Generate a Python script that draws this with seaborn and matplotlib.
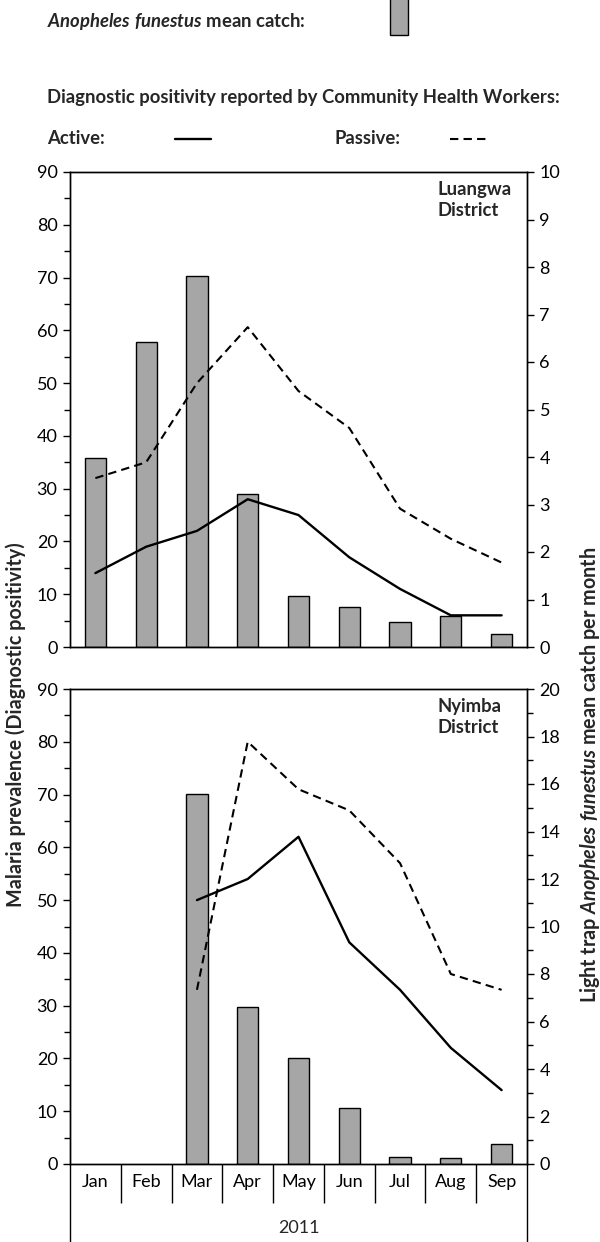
import numpy as np
import pandas as pd
import seaborn as sns
import matplotlib.pyplot as plt
from matplotlib.ticker import MultipleLocator, NullLocator
from matplotlib.lines import Line2D
from matplotlib.patches import Rectangle

sns.set_style('ticks')
plt.rcParams['font.family'] = ['Lato', 'DejaVu Sans']
plt.rcParams['mathtext.fontset'] = 'custom'
plt.rcParams['mathtext.it'] = 'Lato:italic:bold'
plt.rcParams['mathtext.rm'] = 'Lato:bold'
plt.rcParams['mathtext.bf'] = 'Lato:bold'
plt.rcParams['axes.edgecolor'] = 'black'
plt.rcParams['xtick.color'] = 'black'
plt.rcParams['ytick.color'] = 'black'

months = ['Jan', 'Feb', 'Mar', 'Apr', 'May', 'Jun', 'Jul', 'Aug', 'Sep']

# Luangwa District
luangwa_catch = [3.98, 6.42, 7.81, 3.23, 1.08, 0.85, 0.52, 0.66, 0.28]
luangwa_active = [14, 19, 22, 28, 25, 17, 11, 6, 6]
luangwa_passive = [32, 35, 50, 60.6, 48.5, 41.5, 26.2, 20.5, 16]

# Nyimba District
nyimba_catch = [np.nan, np.nan, 15.6, 6.6, 4.45, 2.35, 0.3, 0.25, 0.85]
nyimba_active = [np.nan, np.nan, 50, 54, 62, 42, 33, 22, 14]
nyimba_passive = [np.nan, np.nan, 33, 80, 71, 67, 57, 36, 33]

BAR = '#a6a6a6'
FS = 13
LFS = 13.3
W, H = 600, 1242

fig = plt.figure(figsize=(6, 12.42), dpi=100)


def panel(top_px, catch, active, passive, cmax, cmajor, cminor, name, bottom_axis):
    rect = [70 / W, 1 - (top_px + 475) / H, 457 / W, 475 / H]
    ax = fig.add_axes(rect)
    ax2 = ax.twinx()
    df = pd.DataFrame({'month': months, 'catch': catch})
    sns.barplot(data=df, x='month', y='catch', order=months, ax=ax2,
                color=BAR, saturation=1, edgecolor='black', linewidth=1,
                width=0.42, errorbar=None)
    pos = np.arange(len(months))
    sns.lineplot(x=pos, y=active, ax=ax, color='black', lw=1.7)
    sns.lineplot(x=pos, y=passive, ax=ax, color='black', lw=1.5,
                 linestyle=(0, (4, 2.5)))
    ax.set_zorder(ax2.get_zorder() + 1)
    ax.patch.set_visible(False)

    ax.set_xlim(-0.5, len(months) - 0.5)
    ax.set_ylim(0, 90)
    ax.yaxis.set_major_locator(MultipleLocator(10))
    ax.yaxis.set_minor_locator(MultipleLocator(5))
    ax2.set_ylim(0, cmax)
    ax2.yaxis.set_major_locator(MultipleLocator(cmajor))
    if cminor:
        ax2.yaxis.set_minor_locator(MultipleLocator(cminor))
    else:
        ax2.yaxis.set_minor_locator(NullLocator())
    for a in (ax, ax2):
        a.set_xlabel('')
        a.set_ylabel('')
        a.tick_params(axis='y', which='major', length=5, width=1, pad=4,
                      labelsize=FS)
        a.tick_params(axis='y', which='minor', length=4, width=1)
        for s in a.spines.values():
            s.set_linewidth(1)
            s.set_visible(True)

    if bottom_axis:
        ax.set_xticks(pos[:-1] + 0.5)
        ax.set_xticklabels([])
        ax.set_xticks(pos, minor=True)
        ax.set_xticklabels(months, minor=True)
        ax.tick_params(axis='x', which='major', length=28, width=1)
        ax.tick_params(axis='x', which='minor', length=0, pad=7,
                       labelsize=FS)
        for xx in (0, 1):
            ax.plot([xx, xx], [0, -0.17], transform=ax.transAxes,
                    clip_on=False, color='black', lw=1)
        ax.text(0.5, -0.135, '2011', transform=ax.transAxes, ha='center',
                va='center', fontsize=FS)
    else:
        ax.set_xticks([])
        ax.set_xticks([], minor=True)

    ax.text(0.805, 0.982, name, transform=ax.transAxes, ha='left', va='top',
            fontsize=13.3, fontweight='bold', linespacing=1.3)
    return ax


panel(172, luangwa_catch, luangwa_active, luangwa_passive, 10, 1, None,
      'Luangwa\nDistrict', False)
panel(689, nyimba_catch, nyimba_active, nyimba_passive, 20, 2, 1,
      'Nyimba\nDistrict', True)

# legend block
fig.text(47 / W, 1 - 21 / H, r'$Anopheles\ funestus$ mean catch:',
         fontsize=LFS, fontweight='bold', va='center')
fig.add_artist(Rectangle((390 / W, 1 - 35 / H), 18 / W, 45 / H,
                         transform=fig.transFigure, facecolor=BAR,
                         edgecolor='black', lw=1))
fig.text(47 / W, 1 - 97 / H,
         'Diagnostic positivity reported by Community Health Workers:',
         fontsize=LFS, fontweight='bold', va='center')
yl = 1 - 139 / H
fig.text(47 / W, yl, 'Active:', fontsize=LFS, fontweight='bold', va='center')
fig.add_artist(Line2D([175 / W, 211 / W], [yl, yl], color='black', lw=1.7,
                      transform=fig.transFigure))
fig.text(334 / W, yl, 'Passive:', fontsize=LFS, fontweight='bold', va='center')
fig.add_artist(Line2D([450 / W, 487 / W], [yl, yl], color='black', lw=1.5,
                      linestyle=(0, (4, 2.5)), transform=fig.transFigure))

# axis titles
fig.text(16 / W, 1 - 725 / H, 'Malaria prevalence (Diagnostic positivity)',
         rotation=90, fontsize=14.2, fontweight='bold', ha='center', va='center')
fig.text(590 / W, 1 - 775 / H,
         r'Light trap $Anopheles\ funestus$ mean catch per month',
         rotation=90, fontsize=14.2, fontweight='bold', ha='center', va='center')

fig.savefig('out.png', dpi=100)
